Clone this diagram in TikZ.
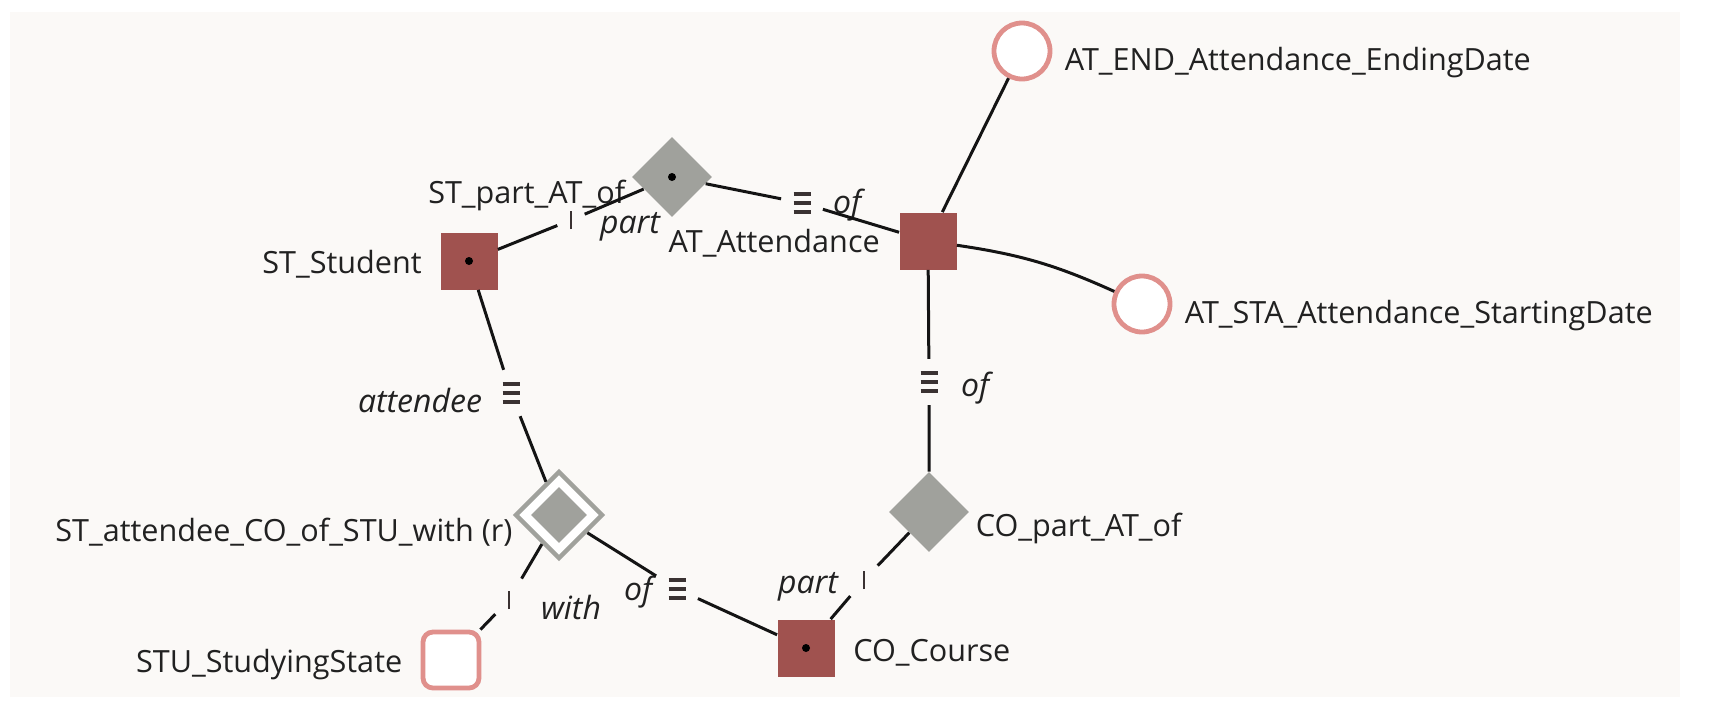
\documentclass[tikz,border=0pt]{standalone}
\usepackage{fontspec}
\setmainfont{Open Sans}
\usepackage{tikz}
\usetikzlibrary{positioning,shapes.geometric}

\definecolor{entred}{HTML}{A0524F}
\definecolor{rolegray}{HTML}{A0A19C}
\definecolor{valpink}{HTML}{E0908C}
\definecolor{canvas}{HTML}{FBF9F7}
\definecolor{markdark}{HTML}{3A3232}

\newcommand{\uniqbars}{\vbox{\hrule width 8.5pt height 2pt \vskip 2.4pt \hrule width 8.5pt height 2pt \vskip 2.4pt \hrule width 8.5pt height 2pt}}
\newcommand{\mandtick}{\rule{1.3pt}{9pt}}

\tikzset{
	entity/.style={rectangle, fill=entred, minimum size=28.5pt, inner sep=0pt},
	fact/.style={diamond, fill=rolegray, minimum width=40pt, minimum height=40pt, inner sep=0pt},
	valtype/.style={circle, draw=valpink, line width=2.4pt, fill=white, minimum size=28pt, inner sep=0pt},
	valbox/.style={rectangle, rounded corners=5pt, draw=valpink, line width=2.4pt, fill=white, minimum size=28pt, inner sep=0pt},
	lbl/.style={font=\fontsize{15.3}{18}\selectfont, text=black!87, inner sep=0pt},
	role/.style={font=\fontsize{16}{19}\selectfont\itshape, text=black!87, inner sep=0pt},
	uniq/.style={text=markdark, inner sep=6pt},
	mand/.style={text=markdark, inner sep=6pt},
	conn/.style={line width=1.5pt, black!92},
}

\begin{document}
\begin{tikzpicture}[x=0.5pt, y=-0.5pt]

	\fill[white] (0,0) rectangle (1710,724);
	\useasboundingbox (0,0) rectangle (1710,724);
	\fill[canvas] (10,12) rectangle (1680,697);

	% object types and fact types
	\node[entity] (ST) at (469,261) {};
	\node[fact] (STpart) at (672,177) {};
	\node[entity] (AT) at (928,241) {};
	\node[valtype] (ATend) at (1022,51) {};
	\node[valtype] (ATsta) at (1142,304) {};
	\node[fact] (COpart) at (929,512) {};
	\node[entity] (CO) at (806,648) {};
	\node[diamond, draw=rolegray, line width=2.2pt, fill=white, minimum width=44pt, minimum height=44pt, inner sep=0pt] (STatt) at (559,515) {};
	\node[fact, minimum width=28pt, minimum height=28pt] (STatt-in) at (559,515) {};
	\node[valbox] (STU) at (451,660) {};

	\fill (ST) circle (2pt);
	\fill (STpart) circle (2pt);
	\fill (CO) circle (2pt);

	\node[lbl, left=9pt of ST, yshift=-1.5pt] (ST-l) {ST\_Student};
	\node[lbl, left=3pt of STpart, yshift=-9pt] (STpart-l) {ST\_part\_AT\_of};
	\node[lbl, left=9.5pt of AT, yshift=-1pt] (AT-l) {AT\_Attendance};
	\node[lbl, right=6pt of ATend, yshift=-6pt] (ATend-l) {AT\_END\_Attendance\_EndingDate};
	\node[lbl, right=6pt of ATsta, yshift=-6pt] (ATsta-l) {AT\_STA\_Attendance\_StartingDate};
	\node[lbl, right=3pt of COpart, yshift=-8pt] (COpart-l) {CO\_part\_AT\_of};
	\node[lbl, right=9pt of CO, yshift=-2.5pt] (CO-l) {CO\_Course};
	\node[lbl, left=0pt of STatt, yshift=-8.5pt] (STatt-l) {ST\_attendee\_CO\_of\_STU\_with (r)};
	\node[lbl, left=9pt of STU, yshift=-2.5pt] (STU-l) {STU\_StudyingState};

	% role markers
	\node[mand] (m-st) at (571,220) {\mandtick};
	\node[uniq] (u-at) at (802,203) {\uniqbars};
	\node[uniq] (u-st) at (511,393) {\uniqbars};
	\node[mand] (m-stu) at (509,600) {\mandtick};
	\node[uniq] (u-co) at (677,589) {\uniqbars};
	\node[mand] (m-co) at (864,580) {\mandtick};
	\node[uniq] (u-at2) at (929,382) {\uniqbars};

	\node[role] (r-part1) at (630,227) {part};
	\node[role] (r-of1) at (847,205) {of};
	\node[role] (r-att) at (420,400) {attendee};
	\node[role] (r-with) at (571,607) {with};
	\node[role] (r-of2) at (638,592) {of};
	\node[role] (r-part2) at (808,587) {part};
	\node[role] (r-of3) at (975,388) {of};

	% connectors
	\draw[conn] (ST) -- (m-st) (m-st) -- (STpart);
	\draw[conn] (STpart) -- (u-at) (u-at) -- (AT);
	\draw[conn] (AT) -- (ATend);
	\draw[conn] (AT) to[bend left=8] (ATsta);
	\draw[conn] (AT) -- (u-at2) (u-at2) -- (COpart);
	\draw[conn] (COpart) -- (m-co) (m-co) -- (CO);
	\draw[conn] (CO) -- (u-co) (u-co) -- (STatt);
	\draw[conn] (STatt) -- (u-st) (u-st) -- (ST);
	\draw[conn] (STatt) -- (m-stu) (m-stu) -- (STU);

\end{tikzpicture}
\end{document}
